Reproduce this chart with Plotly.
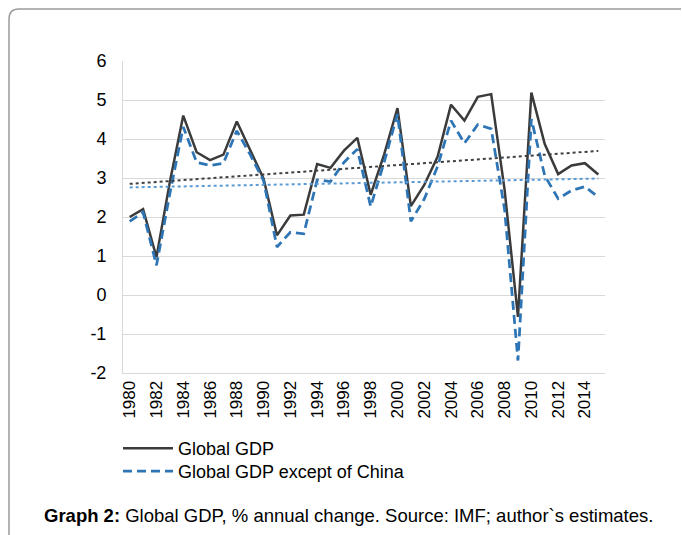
"""
Global GDP, % annual change (IMF) - line chart with linear trendlines
"""

import numpy as np
import plotly.graph_objects as go

# 연도
years = list(range(1980, 2016))

# Global GDP (% annual change)
global_gdp = [2.0, 2.2, 0.97, 2.9, 4.6, 3.66, 3.46, 3.6, 4.45, 3.7,
              2.98, 1.53, 2.04, 2.06, 3.36, 3.26, 3.7, 4.03, 2.57, 3.6,
              4.79, 2.28, 2.82, 3.55, 4.88, 4.47, 5.08, 5.15, 2.7, -0.56,
              5.19, 3.87, 3.1, 3.32, 3.38, 3.09]

# Global GDP except of China
global_ex_china = [1.89, 2.12, 0.76, 2.6, 4.31, 3.4, 3.32, 3.38, 4.21, 3.6,
                   2.93, 1.23, 1.61, 1.57, 2.95, 2.91, 3.4, 3.74, 2.27, 3.4,
                   4.64, 1.89, 2.46, 3.3, 4.47, 3.89, 4.37, 4.26, 2.2, -1.68,
                   4.51, 3.06, 2.47, 2.68, 2.78, 2.51]

# y축 눈금 (하이픈 마이너스)
y_ticks = list(range(-2, 7))
y_ticktext = [str(v) for v in y_ticks]

W, H = 683, 535
L, R, T, B = 123, 78, 61, 162


def to_paper(px_x, px_y):
    # 픽셀 좌표 -> paper 좌표
    return (px_x - L) / (W - L - R), (H - B - px_y) / (H - T - B)


def trend(values):
    # 엑셀 선형 추세선
    coef = np.polyfit(years, values, 1)
    return np.polyval(coef, years)


fig = go.Figure()

fig.add_trace(go.Scatter(
    x=years, y=global_gdp, name='Global GDP', mode='lines',
    line=dict(color='#3b3b3b', width=2.5), legend='legend'
))
fig.add_trace(go.Scatter(
    x=years, y=global_ex_china, name='Global GDP except of China', mode='lines',
    line=dict(color='#2e75b6', width=2.75, dash='9px,5px'), legend='legend2'
))
fig.add_trace(go.Scatter(
    x=years, y=trend(global_gdp), mode='lines', showlegend=False,
    line=dict(color='#404040', width=2, dash='dot')
))
fig.add_trace(go.Scatter(
    x=years, y=trend(global_ex_china), mode='lines', showlegend=False,
    line=dict(color='#5b9bd5', width=2, dash='dot')
))

# 테두리 (상단 + 좌측, 둥근 모서리)
x0, y0 = to_paper(9, H + 5)
x1, y1 = to_paper(9, 19)
x2, y2 = to_paper(9, 9)
x3, y3 = to_paper(19, 9)
x4, y4 = to_paper(W - 2, 9)
border_path = f'M {x0} {y0} L {x1} {y1} Q {x2} {y2} {x3} {y3} L {x4} {y4}'

cap_x, cap_y = to_paper(348, 515)
leg1_x, leg1_y = to_paper(118, 430)
leg2_x, leg2_y = to_paper(118, 453)

legend_style = dict(xanchor='left', yanchor='top', font=dict(size=18),
                    itemwidth=50, bgcolor='rgba(0,0,0,0)')

fig.update_layout(
    width=W, height=H,
    margin=dict(l=L, r=R, t=T, b=B, autoexpand=False),
    paper_bgcolor='white', plot_bgcolor='white',
    font=dict(family='Liberation Sans, Arial, sans-serif', size=17, color='#000000'),
    xaxis=dict(
        range=[1979.5, 2015.5], tickmode='linear', tick0=1980, dtick=2,
        tickangle=-90, showgrid=False, zeroline=False,
        showline=True, linecolor='#d9d9d9', linewidth=1,
        ticks='', tickfont=dict(size=17)
    ),
    yaxis=dict(
        range=[-2, 6], tickmode='array', tickvals=y_ticks, ticktext=y_ticktext,
        showgrid=True, gridcolor='#d9d9d9', gridwidth=1,
        zeroline=False, showline=True, linecolor='#d9d9d9', linewidth=1,
        ticks='', ticklabelstandoff=12, tickfont=dict(size=18)
    ),
    legend=dict(x=leg1_x, y=leg1_y, **legend_style),
    legend2=dict(x=leg2_x, y=leg2_y, **legend_style),
    shapes=[dict(type='path', xref='paper', yref='paper', path=border_path,
                 line=dict(color='#9a9a9a', width=1.5))],
    annotations=[dict(
        xref='paper', yref='paper', x=cap_x, y=cap_y, showarrow=False,
        xanchor='center', yanchor='middle',
        text='<b>Graph 2:</b> Global GDP, % annual change. Source: IMF; author`s estimates.',
        font=dict(size=18.5, color='#000000')
    )]
)

# 페이지 기본 여백 제거
fig.write_html("out.html", config={'displayModeBar': False},
               post_script="document.body.style.margin='0';")
